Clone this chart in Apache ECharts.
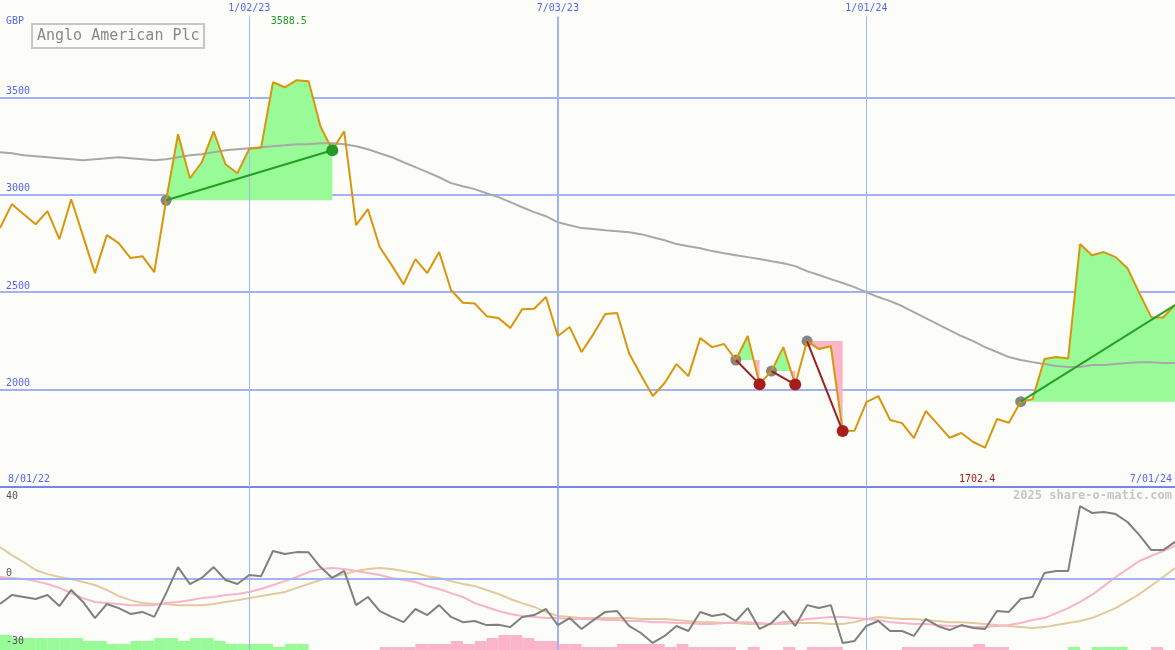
<!DOCTYPE html>
<html>
<head>
<meta charset="utf-8">
<script src="https://cdn.jsdelivr.net/npm/echarts@6/dist/echarts.min.js"></script>
<style>
html,body{margin:0;padding:0;background:#fcfdf9;}
#c{width:1175px;height:650px;}
</style>
</head>
<body>
<div id="c"></div>
<script>
// ---- data (weekly, index 0 = week of 8 Aug 2022, index 99 = week of 1 Jul 2024) ----
const price = [2829,2952,2900,2849,2916,2772,2977,2788,2598,2793,
  2752,2675,2685,2603,2972,3311,3085,3167,3326,3157,
  3111,3236,3242,3578,3552,3588.5,3583,3352,3229,3326,
  2844,2926,2731,2639,2541,2670,2598,2706,2511,2446,
  2442,2377,2367,2316,2413,2415,2475,2275,2321,2193,
  2285,2388,2393,2187,2075,1967,2034,2131,2069,2264,
  2218,2234,2152,2275,2028,2095,2218,2026,2249,2208,
  2223,1787,1789,1936,1967,1844,1828,1751,1890,1823,
  1753,1777,1731,1702.4,1849,1830,1938,1951,2157,2167,
  2160,2747,2690,2706,2680,2623,2495,2372,2370,2434];

const movingAvg = [3219,3213,3203,3198,3193,3188,3183,3177,3183,3188,
  3193,3188,3183,3177,3183,3193,3203,3208,3219,3229,
  3234,3239,3244,3249,3254,3260,3260,3265,3265,3260,
  3249,3234,3213,3193,3167,3142,3116,3090,3060,3044,
  3029,3008,2988,2962,2936,2911,2890,2859,2844,2829,
  2824,2818,2813,2808,2798,2782,2767,2747,2736,2726,
  2711,2700,2690,2680,2670,2659,2649,2634,2608,2588,
  2567,2547,2526,2500,2475,2454,2429,2398,2367,2336,
  2305,2275,2249,2218,2193,2167,2152,2141,2131,2121,
  2116,2116,2126,2126,2131,2136,2141,2141,2136,2136];

const oscGray = [-11.2,-7.2,-8.1,-9.0,-7.2,-12.1,-5.0,-10.3,-17.4,-11.2,
  -13.0,-15.6,-14.7,-16.9,-6.4,5.1,-2.4,0.3,5.1,-0.6,
  -2.4,1.6,1.1,12.2,10.9,11.7,11.6,5.1,0.3,3.4,
  -11.7,-8.1,-14.3,-16.9,-19.2,-13.4,-16.1,-11.7,-16.9,-19.2,
  -18.7,-20.5,-20.4,-21.4,-16.9,-16.1,-13.4,-20.5,-17.4,-22.2,
  -18.3,-14.7,-14.3,-20.9,-24.0,-28.4,-25.3,-20.9,-23.1,-14.7,
  -16.5,-15.6,-18.7,-13.0,-22.2,-19.6,-14.3,-20.9,-11.7,-13.0,
  -11.7,-28.4,-27.5,-20.9,-18.7,-23.1,-23.1,-25.3,-17.8,-20.9,
  -22.7,-20.5,-21.8,-22.2,-14.3,-14.7,-9.0,-8.1,2.5,3.4,
  3.4,32.0,29.0,29.4,28.5,25.0,19.2,12.6,12.6,16.2];

const oscPink = [0.7,0.3,-0.2,-1.1,-2.4,-4.1,-6.4,-8.6,-10.3,-10.8,
  -11.2,-11.7,-11.7,-11.7,-10.8,-10.3,-9.5,-8.6,-8.1,-7.2,
  -6.8,-5.9,-4.6,-2.8,-1.1,0.7,2.9,4.2,4.7,4.2,
  3.4,2.5,1.6,0.3,-0.6,-1.5,-3.3,-4.6,-6.4,-8.1,
  -10.8,-12.5,-14.3,-15.6,-16.5,-16.9,-17.4,-17.4,-17.8,-17.8,
  -17.8,-18.3,-18.3,-18.7,-18.7,-19.2,-19.2,-19.6,-19.6,-20.0,
  -20.0,-19.6,-19.2,-19.2,-19.6,-20.0,-19.2,-18.7,-17.8,-17.4,
  -16.9,-16.9,-17.4,-17.8,-18.3,-19.2,-19.6,-20.0,-20.0,-20.5,
  -20.9,-20.9,-21.4,-21.4,-20.9,-20.5,-19.6,-18.3,-17.4,-15.2,
  -13.0,-10.3,-7.2,-3.3,0.7,4.2,7.8,10.0,12.2,14.4];

const oscTan = [13.9,10.4,7.3,3.8,2.0,0.7,-0.2,-1.5,-2.8,-5.0,
  -7.7,-9.5,-10.8,-11.2,-11.2,-11.7,-11.7,-11.7,-11.2,-10.3,
  -9.5,-8.6,-7.7,-6.8,-5.9,-4.1,-2.4,-0.6,0.7,2.0,
  3.4,4.2,4.7,4.2,3.4,2.5,1.1,0.3,-1.1,-2.4,
  -3.3,-5.0,-6.8,-9.0,-10.8,-12.5,-14.7,-16.5,-16.9,-17.4,
  -17.4,-17.4,-17.4,-17.4,-17.8,-17.8,-17.8,-18.3,-18.7,-19.2,
  -19.2,-19.6,-19.6,-20.0,-20.0,-20.0,-20.0,-19.6,-19.6,-19.6,
  -20.0,-20.0,-19.2,-17.8,-16.9,-17.4,-17.8,-17.8,-18.3,-18.7,
  -19.2,-19.2,-19.6,-20.0,-20.5,-20.9,-21.4,-21.8,-21.4,-20.5,
  -19.6,-18.7,-17.4,-15.2,-13.0,-9.9,-6.8,-3.1,0.7,4.7];

// weekly histogram levels (positive = green, negative = pink), one per week interval
const histLevels = [5,4,4,4,4,4,4,3,3,2,
  2,3,3,4,4,3,4,4,3,2,
  2,2,2,1,2,2,0,0,0,0,
  0,0,-1,-1,-1,-2,-2,-2,-3,-2,
  -3,-4,-5,-5,-4,-3,-3,-2,-2,-1,
  -1,-1,-2,-2,-2,-2,-1,-2,-1,-1,
  -1,-1,0,-1,0,0,-1,0,-1,-1,
  -1,0,0,0,0,0,-1,-1,-1,-1,
  -1,-1,-2,-1,-1,0,0,0,0,0,
  1,0,1,1,1,0,0,-1,0];

// trades: entry / exit week index (null = still open)
const tradeEntries = [14, 62, 65, 68, 86];
const tradeExits   = [28, 64, 67, 71, null];

// tick labels
const priceTicks = [2000, 2500, 3000, 3500];
const dateLabels = ['1/02/23', '7/03/23', '1/01/24'];
const dateLabelWeeks = [21, 47, 73];
const rangeLabels = ['8/01/22', '7/01/24'];
const oscTickValues = [40, 0, -30];
const oscTickLabels = ['40', '0', '-30'];
const currencyLabel = 'GBP';
const titleText = 'Anglo American Plc';
const watermark = '2025 share-o-matic.com';

// ---- styles ----
const MONO = "'DejaVu Sans Mono', 'Liberation Mono', monospace";
const BLUE_TXT = '#5566ee';
const GRID_BLUE = '#a3b2f2';
const AXIS_BLUE = '#7585ec';
const GREEN_FILL = '#98fb98';
const PINK_FILL = '#fab5c8';
const PRICE_COL = '#d9960c';
const MA_COL = '#a8a8a8';

const N = price.length;
const lastK = N - 1;
const weekIdx = price.map((_, i) => i);

const trades = tradeEntries.map((e, i) => {
  const end = tradeExits[i] == null ? lastK : tradeExits[i];
  return {entry: e, exit: tradeExits[i], end: end, win: price[end] > price[e]};
});

function fillItem(params, api) {
  const s = api.value(0), e = api.value(1), b = api.value(2);
  const path = [];
  for (let k = s; k <= e; k++) {
    if (k > s) {
      const d0 = price[k - 1] - b, d1 = price[k] - b;
      if ((d0 > 0 && d1 < 0) || (d0 < 0 && d1 > 0)) {
        path.push([k - 1 + d0 / (d0 - d1), b]);
      }
    }
    path.push([k, price[k]]);
  }
  const up = [[s, b]].concat(path.map(p => [p[0], Math.max(p[1], b)]), [[e, b]]).map(p => api.coord(p));
  const dn = [[s, b]].concat(path.map(p => [p[0], Math.min(p[1], b)]), [[e, b]]).map(p => api.coord(p));
  return {
    type: 'group',
    children: [
      {type: 'polygon', shape: {points: up}, style: {fill: GREEN_FILL, stroke: null}},
      {type: 'polygon', shape: {points: dn}, style: {fill: PINK_FILL, stroke: null}}
    ]
  };
}

const chart = echarts.init(document.getElementById('c'), null, {renderer: 'canvas'});

const option = {
  animation: false,
  backgroundColor: '#fcfdf9',
  title: {
    text: titleText,
    left: 32, top: 24,
    padding: [3, 5, 3, 5],
    borderWidth: 2,
    borderColor: '#c6c6c6',
    textStyle: {fontFamily: MONO, fontSize: 15, fontWeight: 'normal', color: '#888888', lineHeight: 18}
  },
  grid: [
    {left: 0, right: 0, top: 0, height: 487},
    {left: 0, right: 0, top: 488, height: 162}
  ],
  xAxis: [
    {type: 'value', gridIndex: 0, min: 0, max: lastK,
      axisLine: {show: true, onZero: false, lineStyle: {color: AXIS_BLUE, width: 2}},
      axisTick: {show: false}, axisLabel: {show: false}, splitLine: {show: false}},
    {type: 'value', gridIndex: 1, min: 0, max: lastK,
      axisLine: {show: false}, axisTick: {show: false}, axisLabel: {show: false}, splitLine: {show: false}}
  ],
  yAxis: [
    {type: 'value', gridIndex: 0, min: 1500, max: 4000, interval: 500,
      axisLine: {show: false}, axisTick: {show: false},
      axisLabel: {inside: true, margin: 6, showMinLabel: false, showMaxLabel: false,
        verticalAlign: 'bottom', padding: [0, 0, 1, 0],
        color: BLUE_TXT, fontFamily: MONO, fontSize: 10,
        formatter: v => priceTicks.indexOf(v) >= 0 ? String(v) : ''},
      splitLine: {show: true, showMinLine: false, showMaxLine: false, lineStyle: {color: GRID_BLUE, width: 2}}},
    {type: 'value', gridIndex: 1, min: -31.5, max: 40,
      axisLine: {show: false}, axisTick: {show: false}, axisLabel: {show: false}, splitLine: {show: false}},
    {type: 'value', gridIndex: 1, min: 0, max: 54,
      axisLine: {show: false}, axisTick: {show: false}, axisLabel: {show: false}, splitLine: {show: false}}
  ],
  series: [
    // vertical date lines, top panel
    {type: 'line', xAxisIndex: 0, yAxisIndex: 0, data: [], z: 1, silent: true,
      markLine: {
        silent: true, symbol: ['none', 'none'], animation: false,
        label: {show: true, position: 'start', distance: 3, formatter: '{b}',
          color: BLUE_TXT, fontFamily: MONO, fontSize: 10},
        data: dateLabelWeeks.map((w, i) => [
          {coord: [w, 3915], name: dateLabels[i], lineStyle: {color: GRID_BLUE, width: i === 1 ? 2 : 1, type: 'solid'}},
          {coord: [w, 1500]}
        ])
      }},
    // vertical date lines + zero line, bottom panel
    {type: 'line', xAxisIndex: 1, yAxisIndex: 1, data: [], z: 1, silent: true,
      markLine: {
        silent: true, symbol: ['none', 'none'], animation: false,
        label: {show: false},
        data: dateLabelWeeks.map((w, i) => ({xAxis: w, lineStyle: {color: GRID_BLUE, width: i === 1 ? 2 : 1, type: 'solid'}}))
          .concat([{yAxis: 0, lineStyle: {color: GRID_BLUE, width: 2, type: 'solid'}}])
      }},
    // trade fills
    {type: 'custom', xAxisIndex: 0, yAxisIndex: 0, z: 2, silent: true,
      renderItem: fillItem,
      encode: {x: [0, 1], y: 2},
      data: trades.map(t => [t.entry, t.end, price[t.entry]])},
    // moving average
    {type: 'line', xAxisIndex: 0, yAxisIndex: 0, z: 3, symbol: 'none',
      lineStyle: {color: MA_COL, width: 2},
      data: weekIdx.map(i => [i, movingAvg[i]])},
    // entry markers
    {type: 'scatter', xAxisIndex: 0, yAxisIndex: 0, z: 4, symbolSize: 11,
      itemStyle: {color: '#858585', opacity: 1},
      data: trades.map(t => [t.entry, price[t.entry]])},
    // price
    {type: 'line', xAxisIndex: 0, yAxisIndex: 0, z: 5, symbol: 'none',
      lineStyle: {color: PRICE_COL, width: 2},
      data: weekIdx.map(i => [i, price[i]])},
    // trade lines
    {type: 'lines', coordinateSystem: 'cartesian2d', xAxisIndex: 0, yAxisIndex: 0, z: 6,
      lineStyle: {width: 2, opacity: 1, curveness: 0},
      data: trades.map(t => ({coords: [[t.entry, price[t.entry]], [t.end, price[t.end]]],
        lineStyle: {color: t.win ? '#23a023' : '#9c1f1f'}}))},
    // exit markers
    {type: 'scatter', xAxisIndex: 0, yAxisIndex: 0, z: 7, symbolSize: 12,
      data: trades.filter(t => t.exit != null).map(t => ({value: [t.exit, price[t.exit]],
        itemStyle: {color: t.win ? '#229922' : '#a81c1c', opacity: 1}}))},
    // histogram
    {type: 'bar', xAxisIndex: 1, yAxisIndex: 2, z: 2, barWidth: 12,
      data: histLevels.map((h, i) => ({value: [i + 0.5, Math.abs(h)],
        itemStyle: {color: h >= 0 ? GREEN_FILL : PINK_FILL}}))},
    // oscillators
    {type: 'line', xAxisIndex: 1, yAxisIndex: 1, z: 3, symbol: 'none',
      lineStyle: {color: '#e3ca9d', width: 2},
      data: weekIdx.map(i => [i, oscTan[i]])},
    {type: 'line', xAxisIndex: 1, yAxisIndex: 1, z: 4, symbol: 'none',
      lineStyle: {color: '#f8b4c8', width: 2},
      data: weekIdx.map(i => [i, oscPink[i]])},
    {type: 'line', xAxisIndex: 1, yAxisIndex: 1, z: 5, symbol: 'none',
      lineStyle: {color: '#808080', width: 2},
      data: weekIdx.map(i => [i, oscGray[i]])}
  ]
};

chart.setOption(option);

// ---- text labels placed through the axes ----
let maxK = 0, minK = 0;
price.forEach((v, i) => { if (v > price[maxK]) maxK = i; if (v < price[minK]) minK = i; });
const px0 = (k, v) => chart.convertToPixel({gridIndex: 0}, [k, v]);
const px1 = (k, v) => chart.convertToPixel({gridIndex: 1}, [k, v]);
const txt = (x, y, text, color, align, vAlign, extra) => Object.assign({
  type: 'text', x: x, y: y, z: 100, silent: true,
  style: Object.assign({text: text, fill: color, font: '10px ' + MONO, align: align, verticalAlign: vAlign}, extra || {})
});

const graphics = [];
graphics.push(txt(6, 21, currencyLabel, BLUE_TXT, 'left', 'middle'));
graphics.push(txt(px0(maxK, 0)[0] - 8, 21, price[maxK].toFixed(1), '#229922', 'center', 'middle'));
graphics.push(txt(px0(minK, 0)[0] - 8, 479, price[minK].toFixed(1), '#a02020', 'center', 'middle'));
graphics.push(txt(px0(0, 1500)[0] + 8, 479, rangeLabels[0], BLUE_TXT, 'left', 'middle'));
graphics.push(txt(px0(lastK, 1500)[0] - 3, 479, rangeLabels[1], BLUE_TXT, 'right', 'middle'));
graphics.push(txt(1172, 496, watermark, '#c6c6c6', 'right', 'middle', {font: 'bold 12px ' + MONO}));
const oscOffsets = [8, -5, -5];
oscTickValues.forEach((v, i) => {
  const y = px1(0, v)[1];
  graphics.push(txt(6, y + oscOffsets[i], oscTickLabels[i], '#555555', 'left', 'middle'));
});
chart.setOption({graphic: {elements: graphics}});
</script>
</body>
</html>
